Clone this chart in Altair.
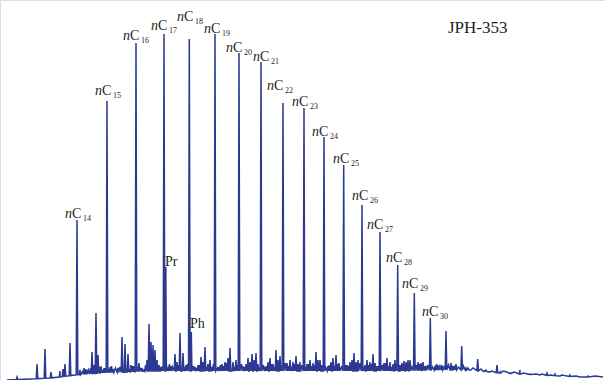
import altair as alt
import pandas as pd
import numpy as np

# ---- data (x = retention position, y = abundance, arbitrary units) ----
alkane_names = ["14", "15", "16", "17", "18", "19", "20", "21", "22", "23", "24",
                "25", "26", "27", "28", "29", "30", "31", "32", "33"]
alkane_rt = [77, 107, 136, 164, 189.3, 215, 239, 261, 283, 304, 324,
             343.7, 362, 380, 397.7, 414.3, 430.3, 446, 461.7, 477.7]
alkane_abund = [160, 279, 337, 346, 341, 346, 327, 318, 277, 272, 243,
                215, 175, 148, 115, 87, 62, 49, 34, 21]

iso_names = ["Pr", "Ph"]
iso_rt = [165.8, 191.3]
iso_abund = [113, 48]

baseline_rt = [7, 30, 50, 60, 75, 90, 100, 130, 150, 200, 300, 400, 450, 470, 490, 500, 520, 540, 560, 580, 603]
baseline_abund = [0, 1, 2, 3, 5, 6, 7, 8, 9, 9, 9, 9, 10, 10, 8, 7, 6, 5, 4, 3, 3]

minor_rt = [17, 37, 45, 51, 60, 63, 65, 70,
            80, 84, 87, 92, 94, 96, 98, 101, 104,
            110, 113, 118, 122, 125, 128, 131, 134,
            139, 142, 144, 147, 149, 151, 153, 155, 157, 159, 161,
            168, 171, 175, 177, 180, 183, 186,
            195, 198, 201, 203, 205, 208, 210, 212,
            219, 222, 225, 228, 230, 233, 236,
            243, 246, 248, 250, 252, 254, 256, 258,
            265, 268, 270, 273, 276, 278, 280,
            287, 290, 293, 296, 298, 300,
            307, 310, 313, 316, 318, 320, 322,
            328, 331, 333, 336, 339,
            347, 350, 352, 354, 356, 358,
            365, 367, 370, 373, 375, 377,
            384, 387, 390, 393, 395,
            402, 404, 406, 408, 410,
            418, 421, 423, 426,
            435, 438, 442,
            451, 453, 456, 466, 470,
            484, 488, 497, 500, 510, 520, 530, 547, 555, 570, 588]
minor_abund = [3, 16, 31, 8, 9, 11, 16, 37,
               10, 12, 10, 28, 15, 67, 25, 14, 12,
               13, 11, 12, 43, 36, 26, 15, 14,
               17, 12, 10, 20, 56, 38, 35, 30, 20, 15, 13,
               12, 14, 26, 18, 47, 27, 15,
               13, 15, 23, 18, 33, 16, 20, 13,
               13, 16, 18, 22, 32, 18, 20,
               14, 16, 22, 18, 26, 20, 27, 16,
               13, 18, 22, 16, 30, 20, 24,
               17, 20, 18, 24, 16, 18,
               16, 20, 17, 28, 20, 20, 15,
               14, 18, 22, 25, 17,
               15, 18, 20, 27, 18, 20,
               15, 20, 18, 26, 17, 14,
               17, 22, 18, 16, 20,
               17, 19, 18, 20, 20,
               18, 17, 18, 14,
               14, 15, 15,
               17, 14, 16, 12, 10,
               9, 8, 15, 8, 7, 10, 6, 7, 6, 5, 4]

# low-level baseline ripple
ripple_rt = [83, 85.5, 88.5, 90.5, 99.5, 102.5, 105.5, 109, 111.5, 115.5,
             120, 129.5, 132.5, 137.5, 140.5, 145.5, 162.5, 166.5, 169.5, 172.5,
             178.5, 184.5, 187.5, 193.5, 196.5, 199.5, 206.5, 213.5, 217.5, 220.5,
             223.5, 226.5, 234.5, 237.5, 241.5, 244.5, 247, 251, 255, 259.5,
             263.5, 266.5, 271.5, 274.5, 281.5, 285.5, 288.5, 291.5, 294.5, 301.5,
             305.5, 308.5, 311.5, 314.5, 319, 325.5, 329.5, 334.5, 337.5, 341.5,
             345.5, 348.5, 351, 360, 363.5, 368.5, 371.5, 378.5, 382.5, 385.5,
             388.5, 391.5, 396.5, 400, 403, 407, 412, 416, 419.5, 424.5,
             428, 432.5, 436.5, 440, 444, 448.5, 454.5, 458.5, 463.5, 468,
             473, 477, 481, 486, 492, 503, 507, 514, 524, 536,
             542, 551, 562, 576, 595]
ripple_abund = [9, 11, 10, 12, 13, 10, 12, 11, 14, 12,
                13, 11, 14, 13, 12, 15, 14, 12, 16, 13,
                15, 13, 16, 14, 12, 15, 13, 16, 12, 15,
                14, 17, 13, 15, 16, 13, 15, 14, 17, 12,
                15, 14, 16, 13, 15, 17, 14, 13, 16, 15,
                13, 16, 14, 15, 17, 13, 15, 14, 16, 13,
                15, 14, 16, 17, 13, 15, 16, 14, 15, 17,
                14, 13, 16, 15, 14, 16, 13, 15, 16, 14,
                15, 13, 16, 14, 13, 15, 14, 13, 14, 12,
                12, 11, 11, 10, 9, 9, 8, 8, 7, 6,
                6, 5, 5, 4, 4]

# label anchors (left edge, text baseline) in data units
alkane_label_x = [65, 95, 123, 151, 177, 204, 226, 253, 267, 292, 312,
                  333, 352, 367, 386, 402, 422]
alkane_label_y = [162, 285, 340, 350, 359, 347, 328, 319, 290, 274, 244,
                  217, 180, 151, 118, 92, 64]
iso_label_x = [165, 190]
iso_label_y = [114, 52]
sample_name = "JPH-353"

# ---- build trace ----
def base(x):
    return float(np.interp(x, baseline_rt, baseline_abund))

pts = [(x, y) for x, y in zip(baseline_rt, baseline_abund)]
def add_peak(rt, ab, hw):
    pts.append((rt - hw, base(rt - hw)))
    pts.append((rt, ab))
    pts.append((rt + hw, base(rt + hw)))

for rt, ab in zip(alkane_rt, alkane_abund):
    add_peak(rt, ab, 0.8)
for rt, ab in zip(iso_rt, iso_abund):
    add_peak(rt, ab, 0.6)
for rt, ab in zip(minor_rt, minor_abund):
    add_peak(rt, ab, 0.8)
for rt, ab in zip(ripple_rt, ripple_abund):
    pts.append((rt, ab))

trace = pd.DataFrame(pts, columns=["rt", "abund"]).sort_values("rt").reset_index(drop=True)
trace["i"] = range(len(trace))

labels = pd.DataFrame({
    "x": alkane_label_x,
    "y": alkane_label_y,
    "sub": alkane_names[:len(alkane_label_x)],
})
iso = pd.DataFrame({"x": iso_label_x, "y": iso_label_y, "t": iso_names})
title_df = pd.DataFrame({"x": [448], "y": [347], "t": [sample_name]})

xs = alt.Scale(domain=[0, 605], nice=False, zero=False)
ys = alt.Scale(domain=[0, 380], nice=False, zero=False)
X = lambda f: alt.X(f, type="quantitative", scale=xs, axis=None)
Y = lambda f: alt.Y(f, type="quantitative", scale=ys, axis=None)

col = "#2B3990"
txtcol = "#231F20"
serif = "Liberation Serif"

line = alt.Chart(trace).mark_line(color=col, strokeWidth=1.5, interpolate="linear").encode(
    x=X("rt"), y=Y("abund"), order="i:Q")

n_txt = alt.Chart(labels).mark_text(font=serif, fontSize=14, fontStyle="italic",
                                    align="left", baseline="alphabetic", color=txtcol).encode(
    x=X("x"), y=Y("y"), text=alt.value("n"))
c_txt = alt.Chart(labels).mark_text(font=serif, fontSize=14, dx=7,
                                    align="left", baseline="alphabetic", color=txtcol).encode(
    x=X("x"), y=Y("y"), text=alt.value("C"))
s_txt = alt.Chart(labels).mark_text(font=serif, fontSize=8, dx=18, dy=3,
                                    align="left", baseline="alphabetic", color=txtcol).encode(
    x=X("x"), y=Y("y"), text="sub:N")
iso_txt = alt.Chart(iso).mark_text(font=serif, fontSize=14,
                                   align="left", baseline="alphabetic", color=txtcol).encode(
    x=X("x"), y=Y("y"), text="t:N")
ttl = alt.Chart(title_df).mark_text(font=serif, fontSize=17,
                                    align="left", baseline="alphabetic", color=txtcol).encode(
    x=X("x"), y=Y("y"), text="t:N")

chart = alt.layer(line, n_txt, c_txt, s_txt, iso_txt, ttl).properties(
    width=605, height=380, padding=0,
    autosize=alt.AutoSizeParams(type="none"),
).configure_view(stroke=None).configure(background="white")

chart.save("out.html", embed_options={"renderer": "svg", "actions": False})
